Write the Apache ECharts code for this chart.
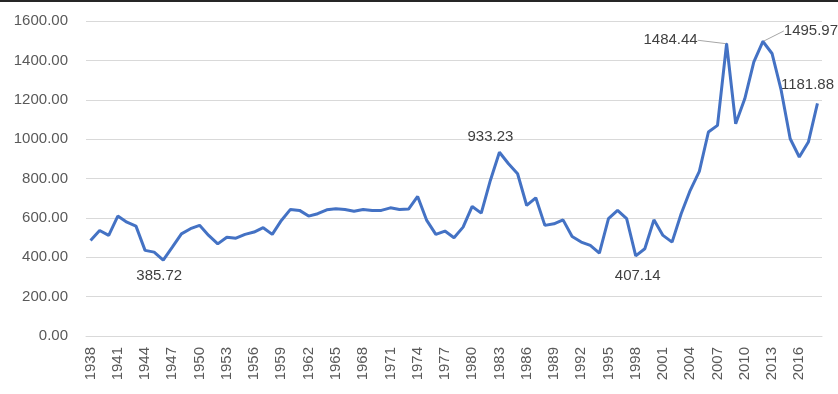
<!DOCTYPE html>
<html>
<head>
<meta charset="utf-8">
<script src="https://cdn.jsdelivr.net/npm/echarts@6/dist/echarts.min.js"></script>
<style>
  html, body { margin: 0; padding: 0; background: #fff; }
  #chart { width: 838px; height: 394px; }
  .topbar { position: absolute; left: 0; top: 0; width: 838px; height: 2px; background: #262626; z-index: 5; }
</style>
</head>
<body>
<div class="topbar"></div>
<div id="chart"></div>
<script>
// years 1938 - 2018
const years = []
for (let y = 1938; y <= 2018; y++) years.push(String(y))

const values = [
  485, 536, 511, 609, 578, 558, 435, 426, 385.72, 451,   // 1938-1947
  519, 545, 562, 511, 468, 502, 497, 516, 528, 550,      // 1948-1957
  516, 587, 643, 638, 609, 621, 641, 646, 643, 634,      // 1958-1967
  643, 638, 638, 651, 643, 645, 709, 587, 516, 533,      // 1968-1977
  499, 553, 658, 624, 790, 933.23, 875, 824, 663, 702,   // 1978-1987
  562, 570, 590, 505, 477, 460, 421, 596, 638, 596,      // 1988-1997
  407.14, 443, 590, 511, 477, 621, 740, 836, 1036, 1070, // 1998-2007
  1484.44, 1078, 1205, 1392, 1495.97, 1435, 1250, 1002, 909, 985, // 2008-2017
  1181.88                                                 // 2018
]

// years that carry a data label
const labelTop = ['1983', '2018']
const labelBottom = ['1946', '1998']
const labelGuide = ['2008', '2012']

// label nudges (px)
const labelShift = {
  '1946': { dx: -4, dy: 3 },
  '1983': { dx: -9, dy: -3 },
  '1998': { dx: 2, dy: 8 },
  '2008': { dx: -56, dy: 10 },
  '2012': { dx: 48, dy: 3 },
  '2018': { dx: -10, dy: -6 }
}

const yTicks = { min: 0, max: 1600, interval: 200 }

const chart = echarts.init(document.getElementById('chart'))

const seriesData = values.map((v, i) => {
  const yr = years[i]
  const item = { value: v }
  if (labelTop.includes(yr)) {
    item.label = { show: true, position: 'top' }
  } else if (labelBottom.includes(yr)) {
    item.label = { show: true, position: 'bottom' }
  } else if (labelGuide.includes(yr)) {
    item.symbolSize = 2
    item.label = { show: true, position: 'top' }
    item.labelLine = { show: true, lineStyle: { color: '#a6a6a6', width: 1 } }
  }
  return item
})

const option = {
  animation: false,
  grid: {
    left: 86,
    right: 16,
    top: 21,
    bottom: 58
  },
  xAxis: {
    type: 'category',
    data: years,
    boundaryGap: true,
    axisLine: { lineStyle: { color: '#d9d9d9', width: 1 } },
    axisTick: { show: false },
    axisLabel: {
      interval: 2,
      rotate: 90,
      margin: 11,
      color: '#595959',
      fontFamily: 'Liberation Sans',
      fontSize: 15
    }
  },
  yAxis: {
    type: 'value',
    min: yTicks.min,
    max: yTicks.max,
    interval: yTicks.interval,
    axisLine: { show: false },
    axisTick: { show: false },
    axisLabel: {
      margin: 18,
      color: '#595959',
      fontFamily: 'Liberation Sans',
      fontSize: 15,
      formatter: v => v.toFixed(2)
    },
    splitLine: { lineStyle: { color: '#d9d9d9', width: 1 } }
  },
  series: [
    {
      type: 'line',
      data: seriesData,
      showSymbol: true,
      showAllSymbol: true,
      symbol: 'circle',
      symbolSize: 0,
      lineStyle: { color: '#4472c4', width: 3 },
      itemStyle: { color: '#4472c4' },
      label: {
        show: false,
        color: '#404040',
        fontFamily: 'Liberation Sans',
        fontSize: 15,
        formatter: p => p.value.toFixed(2)
      },
      labelLayout: function (params) {
        return labelShift[years[params.dataIndex]] || {}
      }
    }
  ]
}

chart.setOption(option)
</script>
</body>
</html>
